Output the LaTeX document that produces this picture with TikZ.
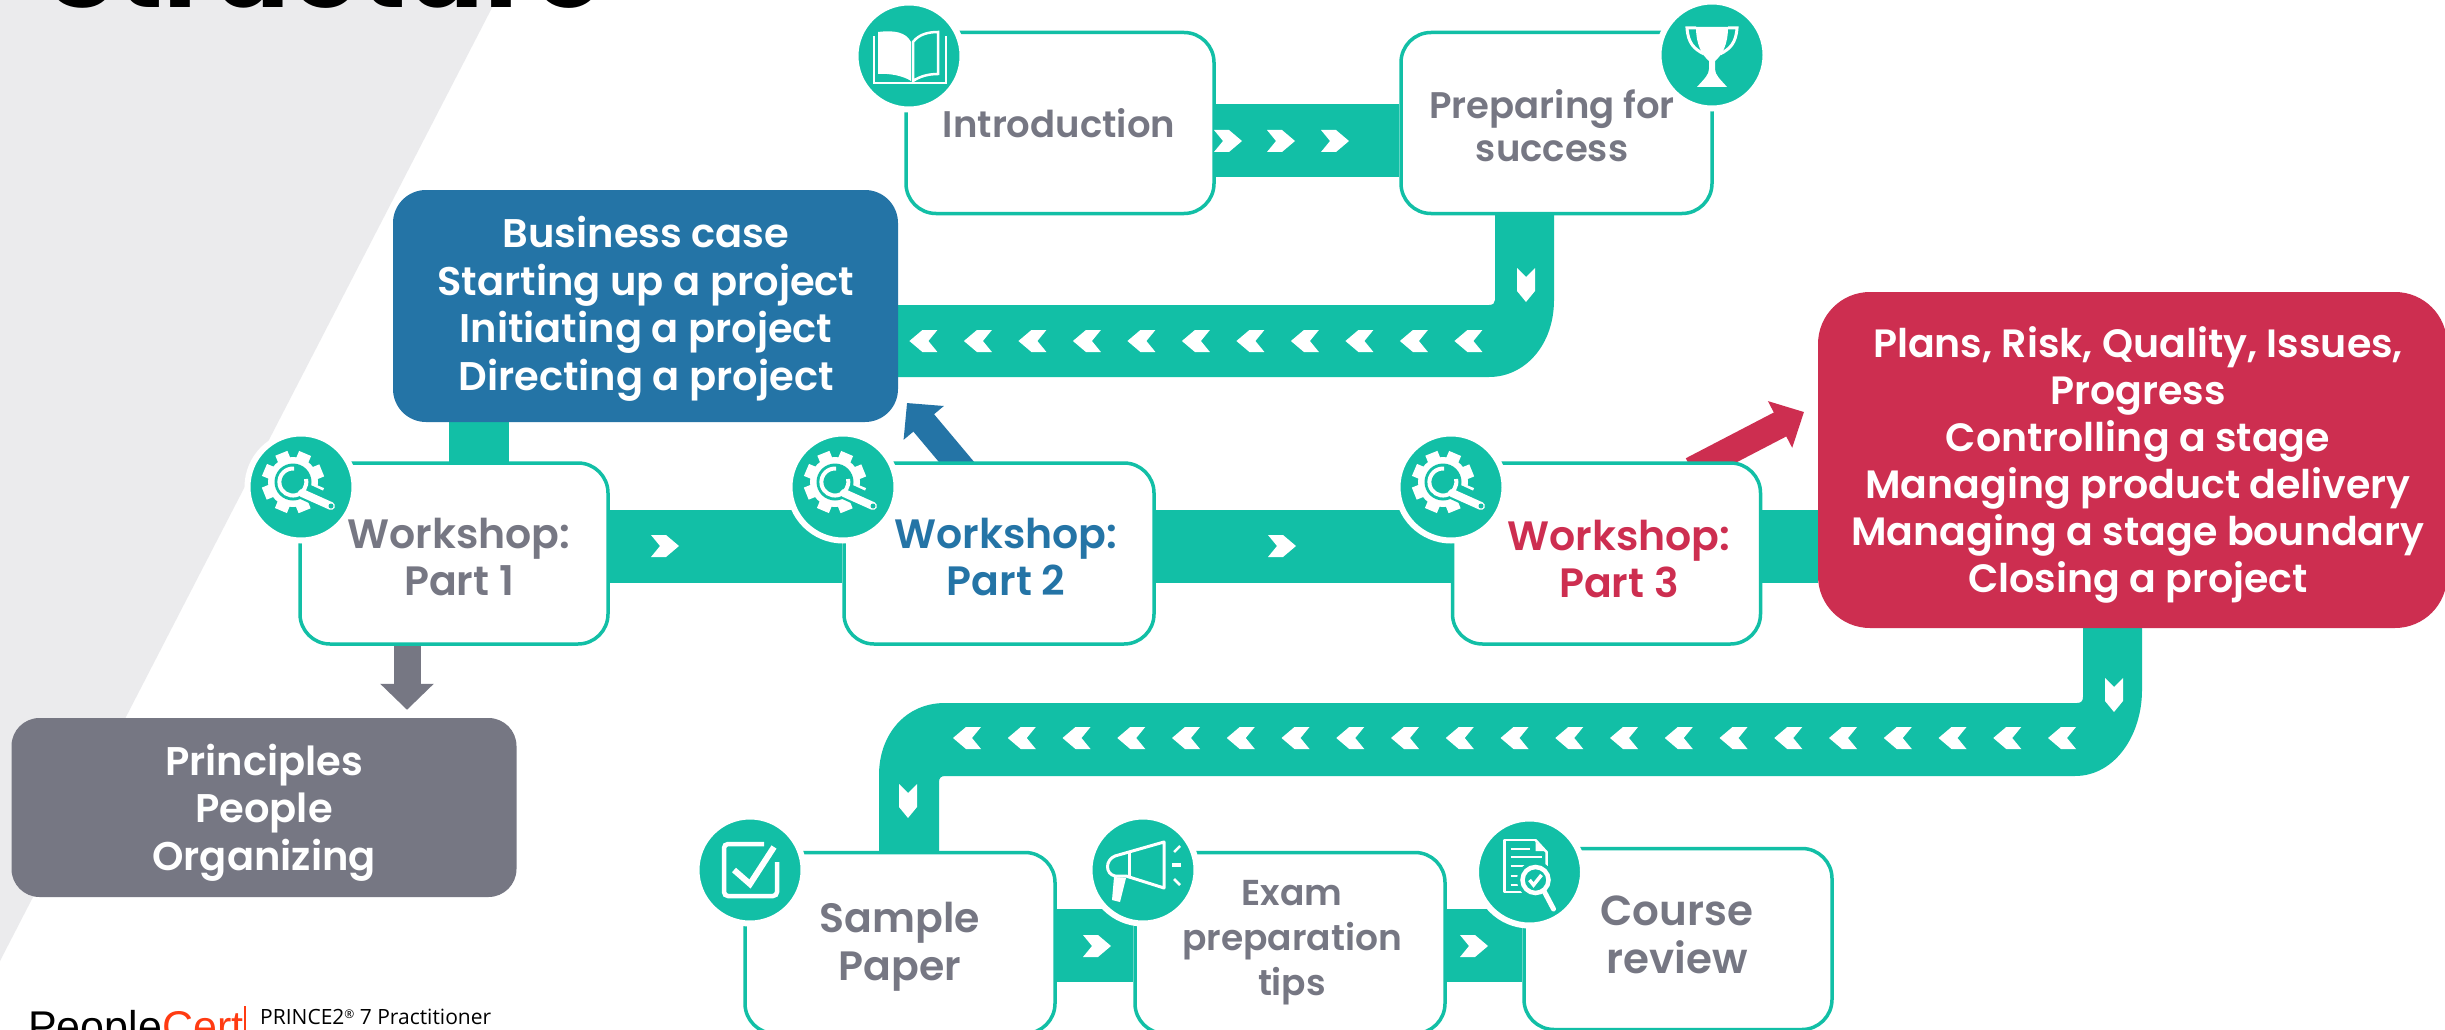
\documentclass[tikz,border=0pt]{standalone}
\usepackage{fontspec}
\usetikzlibrary{calc,arrows.meta}
\setmainfont{Poppins}[UprightFont=* SemiBold,BoldFont=* Bold]
\newfontfamily\opensans{Open Sans}
\newfontfamily\logofont{Liberation Sans}
\definecolor{teal1}{HTML}{12BFA6}
\definecolor{blue1}{HTML}{2474A6}
\definecolor{red1}{HTML}{CD2E50}
\definecolor{grey1}{HTML}{767783}
\definecolor{wedge}{HTML}{EBEBED}
\definecolor{certred}{HTML}{FF3B12}
\pgfdeclarelayer{bg}
\pgfsetlayers{bg,main}
\tikzset{
  tile/.style={draw=teal1,fill=white,line width=3.5pt,rounded corners=30pt,minimum width=#1,minimum height=181pt,inner sep=0pt},
  tile/.default=308pt,
  solidbox/.style={rounded corners=33pt,inner sep=0pt,text=white},
  badge/.style={circle,fill=teal1,draw=white,line width=6pt,minimum size=107pt,inner sep=0pt},
  lbl/.style={anchor=base,align=center,inner sep=0pt,text=grey1,font=\fontsize{41}{47}\selectfont},
  wlbl/.style={anchor=base,align=center,inner sep=0pt,text=white,font=\fontsize{40}{47.5}\selectfont},
  link/.style={draw=teal1,line width=73pt},
  chev/.pic={\fill[white] (-14,-11) -- (1,-11) -- (14,0) -- (1,11) -- (-14,11) -- (-5,0) -- cycle;},
  chevd/.pic={\fill[white] (-9,-17) -- (0,-8) -- (9,-17) -- (9,6) -- (0,17) -- (-9,6) -- cycle;},
  geariconp/.pic={
    \begin{scope}[shift={(-8,-5)}]
      \foreach \a in {0,45,...,315}{\fill[white,rotate=\a+22] (-6.5,-31) rectangle (6.5,0);}
      \fill[white] (0,0) circle (25);
      \fill[teal1] (0,0) circle (18.5);
      \draw[teal1,line width=17pt] (8,8) -- (30,18);
      \draw[white,line width=4pt] (13,-3) arc (-13:275:13.5);
      \draw[white,line width=8pt,line cap=round] (9,11) -- (38,24);
      \fill[teal1] (38,24) circle (2.5);
    \end{scope}},
  trophyiconp/.pic={
    \fill[white] (-16,-28) -- (16,-28) .. controls (16,-10) and (10,0) .. (3,6) -- (3,14) .. controls (3,20) and (8,24) .. (15,32) -- (-15,32) .. controls (-8,24) and (-3,20) .. (-3,14) -- (-3,6) .. controls (-10,0) and (-16,-10) .. (-16,-28) -- cycle;
    \draw[white,line width=3pt] (-16,-27) -- (-25,-27) .. controls (-24,-12) and (-18,-6) .. (-8,-1);
    \draw[white,line width=3pt] (16,-27) -- (25,-27) .. controls (24,-12) and (18,-6) .. (8,-1);},
  bookiconp/.pic={
    \fill[white] (-31,-24) .. controls (-15,-26) and (-3,-24) .. (2,-14) -- (2,25) .. controls (-5,20) and (-20,17) .. (-31,18) -- cycle;
    \draw[white,line width=2.5pt] (4,-14) .. controls (10,-22) and (20,-24) .. (29,-24) -- (29,18) .. controls (18,18) and (10,21) .. (4,25) -- cycle;
    \draw[white,line width=2.5pt] (-35,-20) -- (-35,27) -- (37,27) -- (37,-20);},
  megaiconp/.pic={
    \draw[white,line width=3pt,line join=round] (21,-28) -- (-28,-14) .. controls (-38,-10) and (-38,4) .. (-28,6) -- (-17,6) -- (21,18) -- cycle;
    \draw[white,line width=3pt] (-14,-17) -- (-14,7);
    \fill[white] (-29,7) -- (-17,8) -- (-23,32) -- (-31,30) -- cycle;
    \draw[white,line width=2.5pt] (31,-18) -- (37,-24);
    \draw[white,line width=4pt] (29,-5) -- (38,-5);
    \draw[white,line width=2.5pt] (31,9) -- (37,15);},
  dociconp/.pic={
    \draw[white,line width=2.5pt,line join=round] (6,-32) -- (-25,-32) -- (-25,20) -- (-6,20);
    \draw[white,line width=2.5pt] (6,-32) -- (17,-20) -- (17,-4);
    \fill[white] (6,-30) -- (15,-21) -- (6,-21) -- cycle;
    \foreach \yy/\xe in {-23/0,-15/12,-6/-3,4/-10,13/-10}{\draw[white,line width=2.5pt] (-19,\yy) -- (\xe,\yy);}
    \draw[teal1,line width=3pt,fill=teal1] (6,8) circle (17);
    \draw[white,line width=4.5pt] (6,8) circle (13);
    \draw[white,line width=3.5pt] (0,8) -- (4,13) -- (12,3);
    \draw[white,line width=5pt,line cap=round] (15,20) -- (24,37);},
  checkiconp/.pic={
    \draw[white,line width=4.5pt,rounded corners=4pt] (14,-26) -- (-26,-26) -- (-26,26) -- (27,26) -- (27,-8);
    \draw[teal1,line width=12pt] (-16,1) -- (0,13) -- (24,-22);
    \draw[white,line width=6pt,line join=miter] (-16,0) -- (0,14) -- (24,-23);}
}
\begin{document}
\begin{tikzpicture}[x=1pt,y=-1pt]
\useasboundingbox (0,0) rectangle (2445,1030);

\coordinate (lane1) at (0,140.5);
\coordinate (lane2) at (0,546);
\coordinate (lane3) at (0,945.5);

% boxes
\node[tile] (intro) at (1060,123) {};
\node[tile=311pt] (prep) at (1556.5,123) {};
\node[tile] (w1) at (454,553.5) {};
\node[tile=310pt] (w2) at (999,553.5) {};
\node[tile] (w3) at (1606.5,553.5) {};
\node[tile=310pt] (sample) at (900,943) {};
\node[tile=310pt] (exam) at (1290,943) {};
\node[tile=308pt] (course) at (1678,939) {};
\node[solidbox,fill=blue1,minimum width=505pt,minimum height=232pt] (bluebox) at (645.5,306) {};
\node[solidbox,fill=grey1,rounded corners=28pt,minimum width=505pt,minimum height=179pt] (greybox) at (264,807.5) {};
\node[solidbox,fill=red1,rounded corners=52pt,minimum width=629pt,minimum height=336pt] (redbox) at (2132.5,460) {};

\begin{pgfonlayer}{bg}
\fill[white] (0,0) rectangle (2445,1030);
\fill[wedge] (0,0) -- (496,0) -- (0,961) -- cycle;
\node[anchor=base west,inner sep=0pt,font=\fontsize{115}{115}\bfseries\selectfont] (title) at (46,8) {Structure};

% links
\draw[link] (intro.east |- lane1) -- (prep.west |- lane1);
\draw[link] (w1.east |- lane2) -- (w2.west |- lane2);
\draw[link] (w2.east |- lane2) -- (w3.west |- lane2);
\draw[link] (w3.east |- lane2) -- (redbox.west |- lane2);
\draw[link] (sample.east |- lane3) -- (exam.west |- lane3);
\draw[link] (exam.east |- lane3) -- (course.west |- lane3);
\draw[teal1,line width=60pt] ($(bluebox.south)+(-166.5,-5)$) -- ($(w1.north)+(25,5)$);

% top winding band
\fill[teal1] ($(prep.south)+(-61.5,-5)$) -- ($(prep.south)+(-2.5,-5)$) -- (1554,300)
  .. controls (1554,345) and (1525,377) .. (1489,377) -- ($(bluebox.east)+(-10,71)$) -- ($(bluebox.east)+(-10,-1)$)
  -- (1489,305) .. controls (1493,305) and (1495,303) .. (1495,300) -- cycle;
% lower winding band
\fill[teal1] ($(redbox.south)+(-49.5,-5)$) -- ($(redbox.south)+(9.5,-5)$) -- (2142,690)
  .. controls (2142,735) and (2115,776) .. (2075,776) -- (945,776) .. controls (941,776) and (939,778) .. (939,782)
  -- ($(sample.north)+(39,5)$) -- ($(sample.north)+(-21,5)$) -- (879,775)
  .. controls (879,735) and (905,703) .. (945,703) -- (2077,703) .. controls (2081,703) and (2083,701) .. (2083,697) -- cycle;

% arrows
\coordinate (greytip) at ($(greybox.north)+(143,-8)$);
\draw[grey1,line width=27pt,-{Triangle[length=26pt,width=52pt]}] (w1.south -| greytip) -- (greytip);
\coordinate (bluetip) at (907,403);
\draw[blue1,line width=27pt,-{Triangle[length=26pt,width=51pt]}] ($(w2.north)+(-33,12)$) -- (bluetip);
\coordinate (redtip) at (1804,412);
\draw[red1,line width=27pt,-{Triangle[length=27pt,width=51pt]}] ($(w3.north)+(85.5,9)$) -- (redtip);
\end{pgfonlayer}

% chevrons
\foreach \xx in {1228,1281,1335}{\pic at (\xx,141) {chev};}
\foreach \xx in {665,1282}{\pic at (\xx,546) {chev};}
\foreach \xx in {1097,1474}{\pic at (\xx,946) {chev};}
\foreach \i in {0,...,10}{\pic[rotate=180] at ({923.4+54.5*\i},341) {chev};}
\foreach \i in {0,...,20}{\pic[rotate=180] at ({967+54.75*\i},738) {chev};}
\pic at (1526,285) {chevd};
\pic at (2114,695) {chevd};
\pic at (908,801) {chevd};

% badges
\node[badge] (bintro) at (909,56) {};
\pic at (bintro) {bookiconp};
\node[badge] (bprep) at (1712,55) {};
\pic at (bprep) {trophyiconp};
\node[badge] (bw1) at (301,487) {};
\pic at (bw1) {geariconp};
\node[badge] (bw2) at (843,487) {};
\pic at (bw2) {geariconp};
\node[badge] (bw3) at (1451,487) {};
\pic at (bw3) {geariconp};
\node[badge] (bsample) at (750,870) {};
\pic at (bsample) {checkiconp};
\node[badge] (bexam) at (1143,870) {};
\pic at (bexam) {megaiconp};
\node[badge] (bcourse) at (1529.5,872) {};
\pic at (bcourse) {dociconp};

% labels
\node[lbl,font=\fontsize{37}{43}\selectfont] (tintro) at (1059,138) {Introduction};
\node[lbl,font=\fontsize{37}{43}\selectfont] (tprep) at (1552,161) {Preparing for\\success};
\node[lbl] (tw1) at (459,595) {Workshop:\\Part 1};
\node[lbl,text=blue1] (tw2) at (1006,595) {Workshop:\\Part 2};
\node[lbl,text=red1] (tw3) at (1619,597) {Workshop:\\Part 3};
\node[lbl,font=\fontsize{41}{48}\selectfont] (tsample) at (900,980) {Sample\\Paper};
\node[lbl,font=\fontsize{36}{45}\selectfont] (texam) at (1292,995) {Exam\\preparation\\tips};
\node[lbl,font=\fontsize{42}{48}\selectfont] (tcourse) at (1677,973) {Course\\review};
\node[wlbl] (tblue) at (646,390) {Business case\\Starting up a project\\Initiating a project\\Directing a project};
\node[wlbl] (tgrey) at (264,870) {Principles\\People\\Organizing};
\node[wlbl,font=\fontsize{39.5}{47}\selectfont] (tred) at (2138,592) {Plans, Risk, Quality, Issues,\\Progress\\Controlling a stage\\Managing product delivery\\Managing a stage boundary\\Closing a project};

% footer
\node[anchor=base west,inner sep=0pt,font=\logofont\fontsize{43}{43}\selectfont] (logo) at (28,1041) {People\textcolor{certred}{Cert}};
\draw[certred,line width=2.5pt] (245,1006) -- (245,1030);
\node[anchor=base west,inner sep=0pt,font=\opensans\fontsize{21}{21}\selectfont] (coursename) at (260,1024) {PRINCE2\raisebox{6pt}{\fontsize{12}{12}\selectfont ®} 7 Practitioner};
\end{tikzpicture}
\end{document}
